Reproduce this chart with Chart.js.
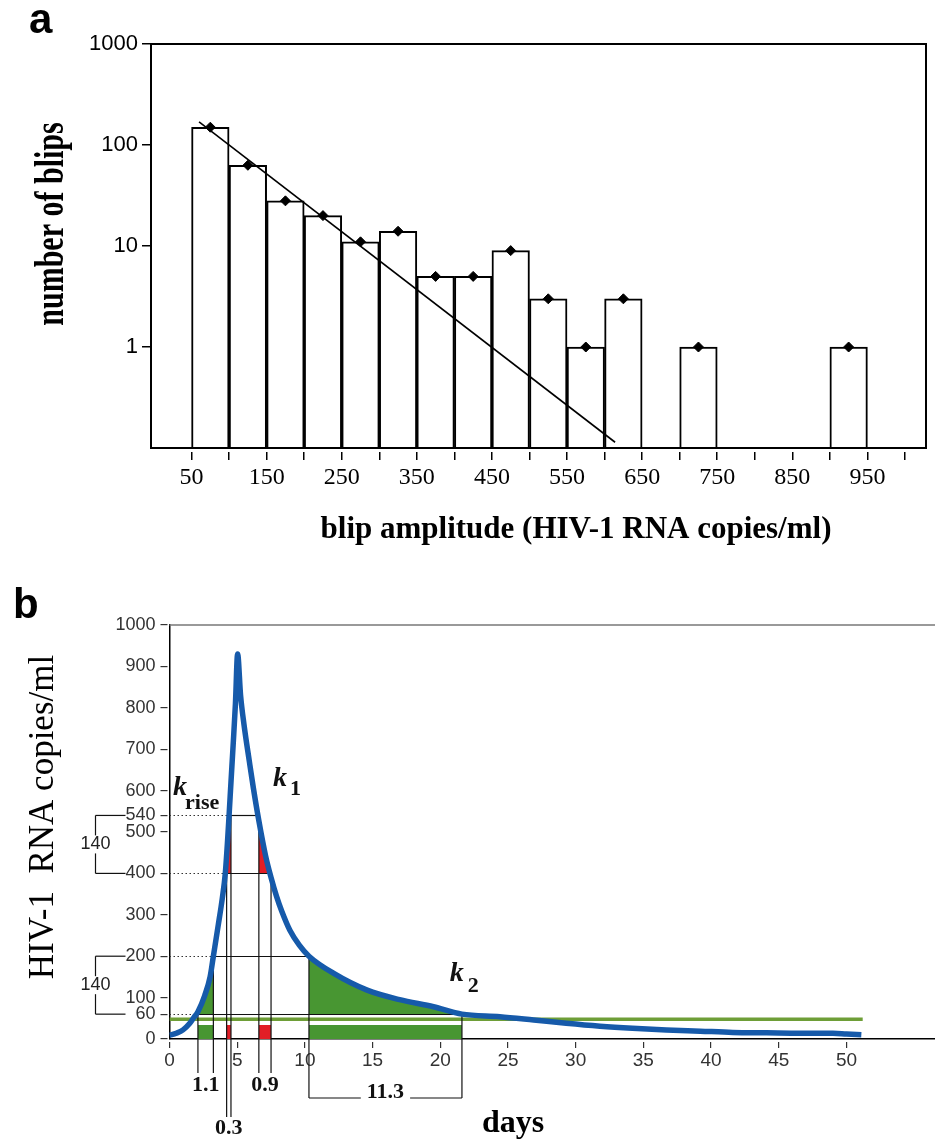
<!DOCTYPE html>
<html><head><meta charset="utf-8">
<script src="https://cdn.jsdelivr.net/npm/chart.js@4/dist/chart.umd.min.js"></script>
<style>
html,body{margin:0;padding:0;background:#fff;}
#wrap{position:relative;width:935px;height:1140px;overflow:hidden;background:#fff;}
canvas{position:absolute;left:0;}
#ca{top:0;} #cb{top:560px;}
</style></head><body>
<div id="wrap"><canvas id="ca" width="935" height="560"></canvas><canvas id="cb" width="935" height="580"></canvas></div>
<script>
// ---------- Panel a data ----------
const binStarts  = [50,100,150,200,250,300,350,400,450,500,550,600,700,900];
const blipCounts = [150,63,28,20,11,14,5,5,9,3,1,3,1,1];
const binWidth = 50;
const fitStart = [60,169];
const fitEnd   = [614,0.114];
const ampTicks = [50,100,150,200,250,300,350,400,450,500,550,600,650,700,750,800,850,900,950,1000];
const ampLabelled = [50,150,250,350,450,550,650,750,850,950];
const countTicks = [1,10,100,1000];

// ---------- Panel b data ----------
const days   = [0,0.5,1.0,1.5,1.8,2.1,2.6,3.0,3.24,3.6,3.9,4.12,4.3,4.4,4.54,4.7,4.87,5.03,5.25,5.5,5.9,6.2,6.6,7.1,7.5,7.9,8.3,8.9,9.6,10.3,12.1,14.6,17.0,19.5,21.6,24.4,26.9,29.3,31.8,34.2,36.7,39.2,41.6,44.1,46.6,49.0,50.0,51.1];
const copies = [9,14,22,38,52,66,105,150,200,275,340,400,485,540,620,710,810,930,830,760,670,605,527,442,390,345,308,262,226,200,159,118,95,78,60,54,46,38,31,26,22,19,16,15,14,14,12,10];
const levels   = [60,200,400,540];
const riseDays = [2.1,3.24,4.22,4.54];
const fallDays = [21.6,10.3,7.5,6.6];
const riseCross400 = 4.12;   // where the rising curve meets 400
const riseCross540 = 4.4;    // where the rising curve meets 540
const limitLevel = 48;
const limitEnd = 51.2;
const markLevel = 34;
const dayTicks  = [0,5,10,15,20,25,30,35,40,45,50];
const copyTicks = [0,60,100,200,300,400,500,540,600,700,800,900,1000];

const SERIF = '"Liberation Serif","Times New Roman",serif';
const SANS = '"Liberation Sans",Arial,sans-serif';
const NARROW = '"Liberation Sans Narrow","Arial Narrow","Liberation Sans",Arial,sans-serif';

// ================= Panel a =================
const plugA = {
  id:'plugA',
  afterDatasetsDraw(chart){
    const {ctx, chartArea:a} = chart;
    ctx.save(); ctx.strokeStyle='#000'; ctx.lineWidth=2;
    ctx.strokeRect(a.left,a.top,a.right-a.left,a.bottom-a.top);
    ctx.restore();
  },
  afterDraw(chart){
    const {ctx} = chart;
    ctx.save();
    ctx.fillStyle='#000';
    ctx.font='bold 42px '+SANS; ctx.textAlign='left'; ctx.textBaseline='alphabetic';
    ctx.fillText('a', 29, 33);
    ctx.font='bold 31px '+SERIF; ctx.textAlign='center';
    ctx.fillText('blip amplitude (HIV-1 RNA copies/ml)', 576, 538);
    ctx.translate(63, 224); ctx.rotate(-Math.PI/2); ctx.scale(1,1.4);
    ctx.font='bold 30px '+SERIF;
    ctx.fillText('number of blips', 0, 0);
    ctx.restore();
  }
};

new Chart(document.getElementById('ca'), {
  type:'bar',
  data:{datasets:[
    {type:'line', data: binStarts.map((s,i)=>({x:s+binWidth/2, y:blipCounts[i]})), showLine:false,
     pointStyle:'rectRot', pointRadius:5, pointBackgroundColor:'#000', pointBorderColor:'#000', order:0},
    {type:'line', data:[{x:fitStart[0],y:fitStart[1]},{x:fitEnd[0],y:fitEnd[1]}], borderColor:'#000', borderWidth:1.6, pointRadius:0, order:1},
    {type:'bar', data: binStarts.map((s,i)=>({x:s+binWidth/2, y:blipCounts[i]})), backgroundColor:'#fff', borderColor:'#000', borderWidth:2,
     barPercentage:1, categoryPercentage:1, order:2}
  ]},
  options:{
    responsive:false, animation:false, devicePixelRatio:1,
    layout:{padding:{top:44,right:9,left:0,bottom:0}},
    plugins:{legend:{display:false}, tooltip:{enabled:false}},
    scales:{
      x:{type:'linear', min:-4, max:1028, offset:false,
         afterFit:s=>{s.height=112;},
         afterBuildTicks:s=>{s.ticks=ampTicks.map(v=>({value:v}));},
         ticks:{autoSkip:false, maxRotation:0, minRotation:0, padding:3, color:'#000',
                font:{family:SERIF,size:24}, callback:v=>ampLabelled.includes(v)?String(v):''},
         grid:{offset:false, drawOnChartArea:false, drawTicks:true, tickLength:12, tickBorderDash:[0,4,8,100], color:'#000', lineWidth:1.5},
         border:{display:false}},
      y:{type:'logarithmic', min:0.1, max:1000, beginAtZero:false,
         afterFit:s=>{s.width=151;},
         afterBuildTicks:s=>{s.ticks=countTicks.map(v=>({value:v}));},
         ticks:{autoSkip:false, padding:4, color:'#000', font:{family:SANS,size:22}, callback:v=>String(v)},
         grid:{drawOnChartArea:false, drawTicks:true, tickLength:9, color:'#000', lineWidth:1.5},
         border:{display:false}}
    }
  },
  plugins:[plugA]
});

// ================= Panel b =================
function segment(a,b){
  const pts=[];
  days.forEach((d,i)=>{ if(d>=a-1e-9 && d<=b+1e-9) pts.push({x:d,y:copies[i]}); });
  return pts;
}
const GREEN='rgb(72,150,50)', RED='rgb(226,30,38)', BLUE='rgb(22,90,170)', OLIVE='rgb(110,158,55)';
const none='rgba(0,0,0,0)';
function fillDs(pts, base, color){
  return {data:pts, fill:{value:base}, backgroundColor:color, borderColor:none, borderWidth:0, pointRadius:0, order:5, clip:false, cubicInterpolationMode:'monotone'};
}
function markDs(a,b,color){
  return {data:[{x:a,y:markLevel},{x:b,y:markLevel}], fill:{value:0}, backgroundColor:color, borderColor:none, borderWidth:0, pointRadius:0, order:4};
}

const intervals = [
  {a:riseDays[0], b:riseDays[1], depth:34, ty:46, kind:'under'},
  {a:riseDays[2], b:riseDays[3], depth:78, ty:89, kind:'under'},
  {a:fallDays[3], b:fallDays[2], depth:34, ty:46, kind:'under'},
  {a:fallDays[1], b:fallDays[0], depth:59, ty:59, kind:'bracket'}
];
const kLabels = [
  {sub:'rise', day:0.26, val:589, dx:12, dy:14},
  {sub:'1',    day:7.64, val:611, dx:17, dy:9},
  {sub:'2',    day:20.7, val:140, dx:18, dy:11}
];

const plugB = {
  id:'plugB',
  beforeDatasetDraw(chart,args){
    if(args.index!==0) return;
    const {ctx, chartArea:ca} = chart; const X=chart.scales.x, Y=chart.scales.y;
    const line=(x1,y1,x2,y2)=>{ctx.beginPath();ctx.moveTo(x1,y1);ctx.lineTo(x2,y2);ctx.stroke();};
    ctx.save(); ctx.lineWidth=1.2;
    const depthOf = d => { for(const iv of intervals){ if(Math.abs(iv.a-d)<1e-9||Math.abs(iv.b-d)<1e-9) return iv.depth; } return 0; };
    levels.forEach((lv,i)=>{
      const yy=Math.round(Y.getPixelForValue(lv))+0.5;
      const xr=X.getPixelForValue(riseDays[i]), xf=X.getPixelForValue(fallDays[i]);
      ctx.setLineDash([1.5,2.5]); ctx.strokeStyle='#333';
      line(ca.left, yy, xr, yy);
      ctx.setLineDash([]); ctx.strokeStyle='#111';
      line(xr, yy, xf, yy);
      line(xr, yy, xr, ca.bottom+depthOf(riseDays[i]));
      line(xf, yy, xf, ca.bottom+depthOf(fallDays[i]));
    });
    ctx.restore();
  },
  afterDraw(chart){
    const {ctx, chartArea:ca} = chart; const X=chart.scales.x, Y=chart.scales.y;
    const line=(x1,y1,x2,y2)=>{ctx.beginPath();ctx.moveTo(x1,y1);ctx.lineTo(x2,y2);ctx.stroke();};
    ctx.save();
    ctx.strokeStyle='#777'; ctx.lineWidth=1.5;
    line(ca.left, ca.top, chart.width, ca.top);
    ctx.strokeStyle='#111'; ctx.lineWidth=1.2; ctx.fillStyle='#111';
    ctx.font='bold 22px '+SERIF; ctx.textAlign='center';
    intervals.forEach(iv=>{
      const xa=X.getPixelForValue(iv.a), xb=X.getPixelForValue(iv.b), xm=(xa+xb)/2;
      const label=(iv.b-iv.a).toFixed(1);
      if(iv.kind==='bracket'){
        const yb=ca.bottom+iv.depth; const w=ctx.measureText(label).width;
        line(xa,yb,xm-w/2-6,yb); line(xm+w/2+6,yb,xb,yb);
        ctx.textBaseline='alphabetic'; ctx.fillText(label,xm,yb);
      } else {
        ctx.textBaseline='middle'; ctx.fillText(label,xm,ca.bottom+iv.ty);
      }
    });
    ctx.font='18px '+NARROW; ctx.textBaseline='middle'; ctx.fillStyle='#222';
    [[3,2],[1,0]].forEach(([h,l])=>{
      const y1=Y.getPixelForValue(levels[h]), y2=Y.getPixelForValue(levels[l]);
      const bx=ca.left-74, ex=ca.left-44, ym=(y1+y2)/2;
      line(bx,y1,ex,y1); line(bx,y2,ex,y2); line(bx,y1,bx,y2);
      const lab=String(levels[h]-levels[l]);
      const w=ctx.measureText(lab).width;
      ctx.fillStyle='#fff'; ctx.fillRect(bx-w/2-1, ym-9, w+2, 18);
      ctx.fillStyle='#222'; ctx.fillText(lab,bx,ym);
    });
    ctx.fillStyle='#111'; ctx.textAlign='left'; ctx.textBaseline='alphabetic';
    kLabels.forEach(k=>{
      const px=X.getPixelForValue(k.day), py=Y.getPixelForValue(k.val);
      ctx.font='italic bold 28px '+SERIF; ctx.fillText('k',px,py);
      ctx.font='bold 22px '+SERIF; ctx.fillText(k.sub,px+k.dx,py+k.dy);
    });
    ctx.fillStyle='#000';
    ctx.font='bold 42px '+SANS; ctx.fillText('b', 13, 58);
    ctx.font='bold 32px '+SERIF; ctx.textAlign='center';
    ctx.fillText('days', 513, 572);
    ctx.translate(53, 257); ctx.rotate(-Math.PI/2);
    ctx.font='35px '+SERIF;
    ctx.fillText('HIV-1  RNA copies/ml', 0, 0);
    ctx.restore();
  }
};

const riseRed = segment(riseCross400, riseCross540).concat([{x:riseDays[3], y:levels[3]}]);

new Chart(document.getElementById('cb'), {
  type:'line',
  data:{datasets:[
    {data: days.map((d,i)=>({x:d,y:copies[i]})), borderColor:BLUE, borderWidth:5.5, pointRadius:0, fill:false,
     cubicInterpolationMode:'monotone', order:0},
    {data:[{x:0,y:limitLevel},{x:limitEnd,y:limitLevel}], borderColor:OLIVE, borderWidth:3.5, pointRadius:0, fill:false, order:3},
    fillDs(segment(riseDays[0],riseDays[1]), levels[0], GREEN),
    fillDs(segment(fallDays[1],fallDays[0]), levels[0], GREEN),
    fillDs(riseRed, levels[2], RED),
    fillDs(segment(fallDays[3],fallDays[2]), levels[2], RED),
    markDs(riseDays[0],riseDays[1],GREEN),
    markDs(riseDays[2],riseDays[3],RED),
    markDs(fallDays[3],fallDays[2],RED),
    markDs(fallDays[1],fallDays[0],GREEN)
  ]},
  options:{
    responsive:false, animation:false, devicePixelRatio:1,
    layout:{padding:{top:65,right:0,left:0,bottom:0}},
    plugins:{legend:{display:false}, tooltip:{enabled:false}},
    scales:{
      x:{type:'linear', min:0, max:56.54,
         afterFit:s=>{s.height=101;},
         afterBuildTicks:s=>{s.ticks=dayTicks.map(v=>({value:v}));},
         ticks:{autoSkip:false, maxRotation:0, minRotation:0, padding:1, color:'#333', font:{family:NARROW,size:19}, callback:v=>String(v)},
         grid:{drawOnChartArea:false, drawTicks:true, tickLength:9, tickBorderDash:[0,2.5,6.5,100], color:'#333', lineWidth:1.2},
         border:{display:true, color:'#000', width:1.5}},
      y:{type:'linear', min:0, max:1000,
         afterFit:s=>{s.width=169.5;},
         afterBuildTicks:s=>{s.ticks=copyTicks.map(v=>({value:v}));},
         ticks:{autoSkip:false, padding:5, color:'#333', font:{family:NARROW,size:18}, callback:v=>String(v)},
         grid:{drawOnChartArea:false, drawTicks:true, tickLength:9, tickBorderDash:[7,100], color:'#333', lineWidth:1.2},
         border:{display:true, color:'#000', width:1.5}}
    }
  },
  plugins:[plugB]
});
</script>
</body></html>
